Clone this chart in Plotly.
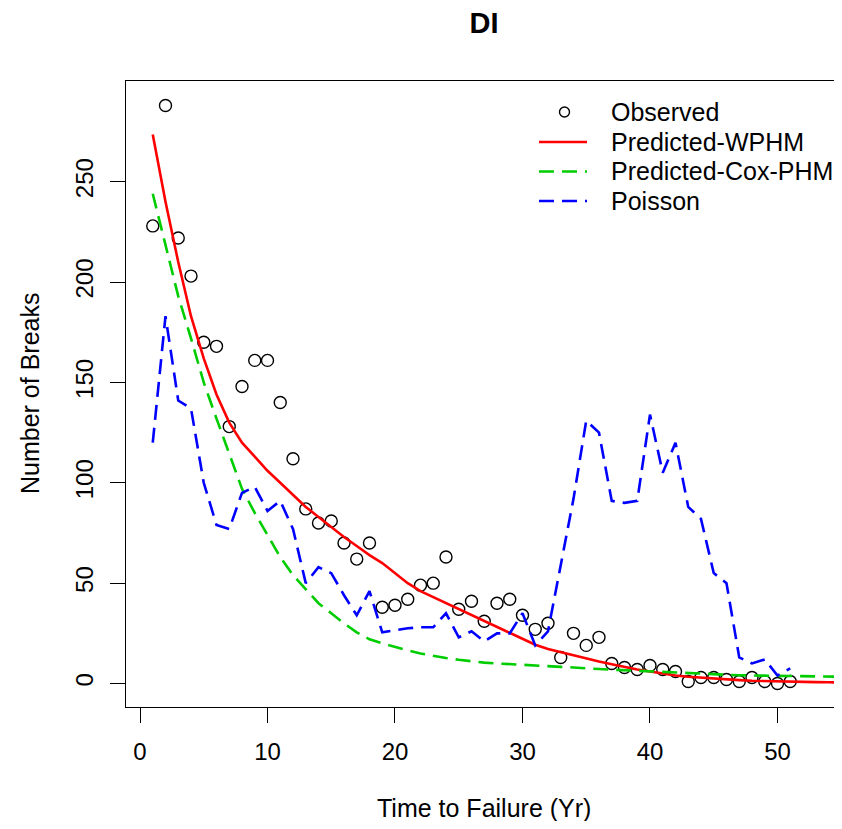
"""DI breaks: observed vs predicted (WPHM, Cox-PHM, Poisson)."""
import plotly.graph_objects as go

FONT = "Arial, Liberation Sans, sans-serif"

# observed breaks, years 1..51
obs_years = list(range(1, 52))
observed = [228, 288, 222, 203, 170, 168, 128, 148, 161, 161,
            140, 112, 87, 80, 81, 70, 62, 70, 38, 39,
            42, 49, 50, 63, 37, 41, 31, 40, 42, 34,
            27, 30, 13, 25, 19, 23, 10, 8, 7, 9,
            7, 6, 1, 3, 3, 2, 1, 3, 1, 0, 1]

# model curves, years 1..56
curve_years = list(range(1, 57))
wphm = [273.6, 240, 210, 183, 162, 144, 130, 120, 113, 106,
        100, 94, 88, 83, 78, 73, 68.5, 64, 60, 55,
        50, 46, 43, 40, 37, 34, 31, 28, 25, 22,
        19.3, 17.2, 15.6, 14, 12.5, 11, 9.6, 8.2, 7, 6,
        5, 4, 3.4, 2.9, 2.4, 2, 1.7, 1.4, 1.2, 1,
        0.9, 0.8, 0.7, 0.6, 0.5, 0.5]
cox_phm = [244, 219, 193, 172, 150, 132, 114, 97, 85, 74,
           63, 54, 47, 40, 35, 30, 25.5, 22, 20, 18.2,
           16.5, 15, 13.8, 12.7, 11.8, 11, 10.4, 10, 9.6, 9.2,
           8.9, 8.6, 8.3, 8.0, 7.5, 7.2, 6.9, 6.6, 6.2, 5.9,
           5.6, 5.3, 5.1, 4.9, 4.6, 4.4, 4.1, 4.0, 3.9, 3.8,
           3.7, 3.6, 3.5, 3.4, 3.35, 3.3]

# Poisson fit, years 1..51
poisson = [120, 183, 141, 137, 100, 79, 77, 95, 98, 86,
           91, 77, 50, 58, 55, 44, 34, 46, 25.5, 26.5,
           27.5, 28, 28, 35, 23, 26, 21, 25, 25, 35,
           19, 26, 60, 92, 131, 125, 91, 90, 91, 134,
           105, 120, 88, 82, 55, 50, 13, 10, 12, 4, 7.5]

x_ticks = [0, 10, 20, 30, 40, 50]
y_ticks = [0, 50, 100, 150, 200, 250]

# the page body adds an 8px margin, so the figure is laid out 8px in
PAD = 8
W, H = 834, 813
L, R, T, B = 118, 0, 73, 114

DASH = "15px,8px"
RED, GREEN, BLUE = "#ff0000", "#00cd00", "#0000ff"


def px(x_page):
    return (x_page - PAD - L) / (W - L - R)


def py(y_page):
    return (H - B - (y_page - PAD)) / (H - T - B)


fig = go.Figure()
fig.add_trace(go.Scatter(
    x=obs_years, y=observed, mode="markers", name="Observed",
    marker=dict(symbol="circle-open", size=12, color="black",
                line=dict(width=1.4, color="black")),
))
fig.add_trace(go.Scatter(
    x=curve_years, y=wphm, mode="lines", name="Predicted-WPHM",
    line=dict(color=RED, width=2.6),
))
fig.add_trace(go.Scatter(
    x=curve_years, y=cox_phm, mode="lines", name="Predicted-Cox-PHM",
    line=dict(color=GREEN, width=2.6, dash=DASH),
))
fig.add_trace(go.Scatter(
    x=obs_years, y=poisson, mode="lines", name="Poisson",
    line=dict(color=BLUE, width=2.6, dash=DASH),
))

# legend drawn by hand (R-style spacing)
legend_rows = [("Observed", 112), ("Predicted-WPHM", 142),
               ("Predicted-Cox-PHM", 171.5), ("Poisson", 201)]
for label, yy in legend_rows:
    fig.add_annotation(text=label, xref="paper", x=px(609), yref="paper", y=py(yy),
                       xanchor="left", yanchor="middle", showarrow=False,
                       font=dict(size=25))
fig.add_shape(type="circle", xref="paper", yref="paper",
              x0=px(559.5), x1=px(569.5), y0=py(117), y1=py(107),
              line=dict(color="black", width=1.4))
for (label, yy), col, dash in zip(legend_rows[1:], [RED, GREEN, BLUE],
                                   ["solid", DASH, DASH]):
    fig.add_shape(type="line", xref="paper", yref="paper",
                  x0=px(539), x1=px(587), y0=py(yy), y1=py(yy),
                  line=dict(color=col, width=2.6, dash=dash))

# axis titles as annotations
fig.add_annotation(text="Time to Failure (Yr)", xref="paper", x=0.5,
                   yref="paper", y=py(808),
                   xanchor="center", yanchor="middle", showarrow=False,
                   font=dict(size=25))
fig.add_annotation(text="Number of Breaks", textangle=-90,
                   xref="paper", x=px(30), yref="paper", y=0.5,
                   xanchor="center", yanchor="middle", showarrow=False,
                   font=dict(size=25))

fig.update_layout(
    width=W, height=H,
    margin=dict(l=L, r=R, t=T, b=B, autoexpand=False),
    paper_bgcolor="white", plot_bgcolor="white",
    font=dict(family=FONT, size=24, color="black"),
    title=dict(text="<b>DI</b>", x=0.5, xref="paper", xanchor="center",
               y=1 - (23 - PAD) / H, yref="container", yanchor="middle",
               font=dict(size=29, color="black")),
    showlegend=False,
    xaxis=dict(
        range=[-1.098, 55.06], tickvals=x_ticks, automargin=False,
        showgrid=False, zeroline=False,
        showline=True, linecolor="black", linewidth=1.2, mirror=True,
        ticks="outside", ticklen=15, tickwidth=1.2, tickcolor="black",
        ticklabelstandoff=8,
    ),
    yaxis=dict(
        range=[-11.7, 300.2], tickvals=y_ticks, tickangle=-90, automargin=False,
        showgrid=False, zeroline=False,
        showline=True, linecolor="black", linewidth=1.2,
        ticks="outside", ticklen=15, tickwidth=1.2, tickcolor="black",
        ticklabelstandoff=7,
    ),
)

fig.write_html("out.html")
